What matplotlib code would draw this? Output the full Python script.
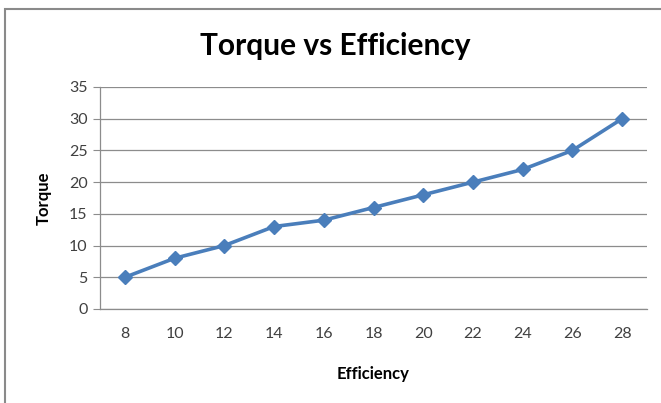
import matplotlib.pyplot as plt
from matplotlib.patches import Rectangle

efficiency = [8, 10, 12, 14, 16, 18, 20, 22, 24, 26, 28]
torque = [5, 8, 10, 13, 14, 16, 18, 20, 22, 25, 30]
y_ticks = [0, 5, 10, 15, 20, 25, 30, 35]

plt.rcParams['font.family'] = ['Lato', 'DejaVu Sans']

W, H = 661, 403
fig = plt.figure(figsize=(W / 100, H / 100), dpi=100)

# outer chart border (cropped on right/bottom)
fig.patches.append(Rectangle((5 / W, -0.05), 1.2, 1 - 9 / H + 0.05,
                             transform=fig.transFigure, fill=False,
                             edgecolor='#8a8a8a', linewidth=1.5))

ax = fig.add_axes([100 / W, 1 - 309 / H, (647 - 100) / W, (309 - 87) / H])

ax.plot(efficiency, torque, color='#4a7ebb', linewidth=2.6,
        marker='D', markersize=7.5, zorder=3)

ax.set_xlim(7, 29)
ax.set_ylim(0, 35)
ax.set_xticks(efficiency)
ax.set_yticks(y_ticks)
ax.grid(axis='y', color='#8c8c8c', linewidth=0.9)
ax.set_axisbelow(True)

for s in ['top', 'right']:
    ax.spines[s].set_visible(False)
for s in ['left', 'bottom']:
    ax.spines[s].set_color('#8c8c8c')
    ax.spines[s].set_linewidth(0.9)

ax.tick_params(axis='y', length=5, color='#8c8c8c', labelsize=11.5,
               labelcolor='#404040', pad=4)
ax.tick_params(axis='x', length=0, labelsize=11.5, labelcolor='#404040', pad=13)

ax.set_xlabel('Efficiency', fontsize=12, fontweight='bold', labelpad=18)
ax.set_ylabel('Torque', fontsize=12, fontweight='bold', labelpad=12)

fig.text(335 / W, 1 - 46 / H, 'Torque vs Efficiency', ha='center', va='center',
         fontsize=21.5, fontweight='bold')

fig.savefig('out.png', dpi=100)
